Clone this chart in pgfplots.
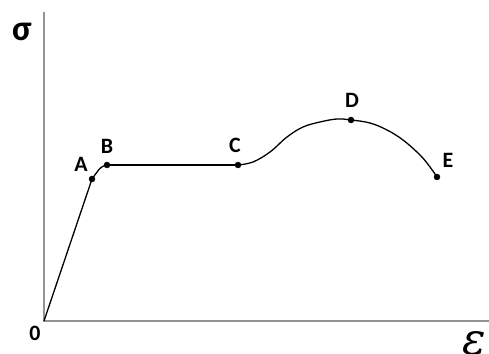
\documentclass[border=0pt]{standalone}
\usepackage{pgfplots}
\pgfplotsset{compat=1.18}
\usepackage{fontspec}
\setmainfont{Carlito}
\newfontfamily\epsfont{DejaVu Serif}
\begin{document}
\begin{tikzpicture}
\useasboundingbox (0,0) rectangle (489bp,354bp);
\begin{axis}[
  at={(0,0)}, anchor=south west,
  scale only axis, width=489bp, height=354bp,
  hide axis,
  xmin=-44, xmax=445, ymin=-33, ymax=321,
  clip=false,
]
% axes
\addplot[color=gray!85, line width=2.6bp] coordinates {(0,309) (0,0) (447,0)};
% curve
\addplot[black, line width=1.3bp] coordinates {(0,0) (48,142)};
\addplot[black, line width=1.3bp, smooth, tension=0.5] coordinates {(48,142) (55,151.5) (59,154.7) (63,156)};
\addplot[black, line width=1.3bp] coordinates {(63,156) (194,156)};
\addplot[black, line width=1.3bp, smooth, tension=0.6] coordinates {
(194,156) (209,159) (226,169) (243,184) (259,194) (276,199) (293,202) (307,201)
(326,198) (343,191) (359,181) (376,166) (386,154) (393,144)};
% points
\addplot[only marks, mark=*, mark size=3bp, black] coordinates {
(48,142) (63,156) (194,156) (307,201) (393,144)};
% labels
\node[font=\bfseries\fontsize{22}{22}\selectfont] at (axis cs:37,157) {A};
\node[font=\bfseries\fontsize{22}{22}\selectfont] at (axis cs:63,175) {B};
\node[font=\bfseries\fontsize{22}{22}\selectfont] at (axis cs:191,176) {C};
\node[font=\bfseries\fontsize{22}{22}\selectfont] at (axis cs:308,221) {D};
\node[font=\bfseries\fontsize{22}{22}\selectfont] at (axis cs:404,161) {E};
\node[font=\bfseries\fontsize{22}{22}\selectfont] at (axis cs:-9,-12) {0};
\node[font=\bfseries\fontsize{36}{36}\selectfont] at (axis cs:-22,289) {σ};
\node[anchor=north west, inner sep=0pt, font=\epsfont\itshape\fontsize{44}{44}\selectfont] at (axis cs:418,-10) {ε};
\end{axis}
\end{tikzpicture}
\end{document}
